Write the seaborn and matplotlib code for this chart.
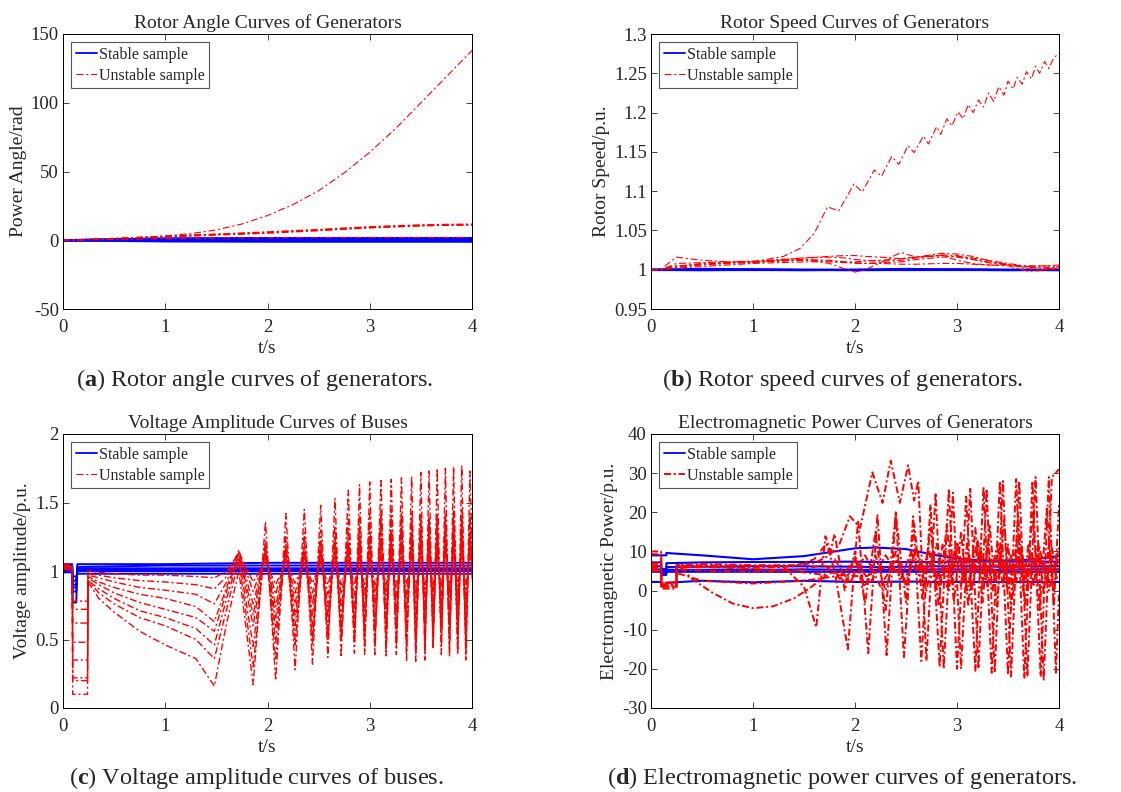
import matplotlib
matplotlib.use("Agg")
import matplotlib.pyplot as plt
from matplotlib.lines import Line2D
from matplotlib.ticker import FuncFormatter
import pandas as pd
import seaborn as sns

# ---------------- (a) rotor angle ----------------
a_t = [0, 0.25, 0.5, 0.75, 1.0, 1.25, 1.5, 1.75, 2.0, 2.25, 2.5, 2.75, 3.0, 3.25, 3.5, 3.75, 4.0]
a_unstable = [
    [0, 0.5, 1.2, 2.1, 3.2, 4.8, 7.5, 11.8, 18, 26, 36, 49, 64, 81, 100, 119, 138],
    [0, 0.6, 1.3, 2.0, 2.8, 3.5, 4.3, 5.0, 5.8, 6.7, 7.6, 8.6, 9.6, 10.3, 10.9, 11.3, 11.5],
    [0, 0.5, 1.2, 1.9, 2.6, 3.3, 4.0, 4.7, 5.4, 6.3, 7.2, 8.2, 9.2, 9.9, 10.6, 11.0, 11.2],
    [0, 0.7, 1.4, 2.2, 3.0, 3.8, 4.6, 5.3, 6.1, 7.0, 7.9, 8.9, 9.9, 10.6, 11.2, 11.6, 11.8],
    [0, 0.5, 1.1, 1.7, 2.4, 3.0, 3.7, 4.4, 5.1, 6.0, 6.9, 7.9, 8.9, 9.7, 10.4, 10.8, 11.0],
    [0, 0.3, 0.6, 0.9, 1.2, 1.4, 1.6, 1.7, 1.8, 1.9, 1.9, 2.0, 2.0, 2.0, 2.0, 2.0, 2.0],
]
a_stable_t = [0, 1, 2, 3, 4]
a_stable = [
    [0.0, 0.2, 0.3, 0.3, 0.3],
    [0.0, 0.6, 0.7, 0.8, 0.8],
    [0.0, 1.0, 1.2, 1.3, 1.3],
    [0.0, -0.4, -0.5, -0.5, -0.5],
    [0.0, 1.3, 1.6, 1.6, 1.6],
    [0.0, -0.8, -1.0, -1.0, -1.0],
]

# ---------------- (b) rotor speed ----------------
b_stable_t = [0, 0.5, 1.0, 1.5, 2.0, 2.5, 3.0, 3.5, 4.0]
b_stable = [
    [1.000, 1.000, 1.000, 1.000, 1.000, 1.000, 1.000, 1.000, 1.000],
    [1.000, 1.001, 1.0005, 1.000, 0.9995, 1.000, 1.0005, 1.000, 0.9995],
    [1.000, 0.9995, 1.000, 0.9995, 1.000, 1.001, 1.000, 0.9995, 1.000],
]
b_big_t = [0, 0.1, 0.2, 0.5, 1.0, 1.3, 1.46, 1.6, 1.73, 1.84, 1.99, 2.07, 2.19, 2.26,
           2.36, 2.43, 2.52, 2.58, 2.67, 2.72, 2.80, 2.84, 2.90, 2.95, 3.01, 3.06, 3.11,
           3.16, 3.21, 3.26, 3.31, 3.36, 3.41, 3.46, 3.50, 3.55, 3.59, 3.64, 3.68, 3.73,
           3.77, 3.81, 3.86, 3.90, 3.95, 4.0]
b_big_v = [1.0, 1.0, 1.004, 1.007, 1.010, 1.017, 1.027, 1.046, 1.080, 1.075, 1.109, 1.099,
           1.127, 1.119, 1.144, 1.134, 1.158, 1.149, 1.170, 1.160, 1.182, 1.172, 1.192,
           1.183, 1.201, 1.192, 1.210, 1.200, 1.216, 1.207, 1.225, 1.214, 1.233, 1.222,
           1.240, 1.230, 1.245, 1.236, 1.252, 1.243, 1.259, 1.250, 1.265, 1.256, 1.270, 1.275]
b_small_t = [0, 0.1, 0.25, 0.5, 0.75, 1.0, 1.25, 1.5, 1.75, 1.9, 2.0, 2.1, 2.25, 2.45,
             2.6, 2.85, 3.0, 3.15, 3.3, 3.5, 3.7, 3.85, 4.0]
b_small = [
    [1.0, 1.001, 1.016, 1.012, 1.010, 1.010, 1.012, 1.015, 1.017, 1.018, 1.018, 1.017,
     1.016, 1.014, 1.016, 1.021, 1.020, 1.017, 1.012, 1.008, 1.004, 1.005, 1.006],
    [1.0, 1.0, 1.005, 1.007, 1.009, 1.010, 1.012, 1.013, 1.008, 1.001, 0.997, 1.000,
     1.009, 1.022, 1.016, 1.018, 1.012, 1.008, 1.006, 1.005, 0.998, 0.999, 1.002],
    [1.0, 1.0, 1.003, 1.006, 1.008, 1.009, 1.011, 1.013, 1.012, 1.010, 1.008, 1.008,
     1.009, 1.010, 1.013, 1.016, 1.017, 1.015, 1.012, 1.006, 1.004, 1.003, 1.003],
    [1.0, 1.0, 1.004, 1.008, 1.009, 1.010, 1.011, 1.012, 1.011, 1.010, 1.010, 1.011,
     1.012, 1.014, 1.016, 1.018, 1.016, 1.013, 1.009, 1.006, 1.005, 1.005, 1.004],
    [1.0, 1.0, 1.002, 1.004, 1.006, 1.008, 1.009, 1.010, 1.010, 1.009, 1.009, 1.008,
     1.008, 1.007, 1.007, 1.008, 1.008, 1.007, 1.006, 1.006, 1.003, 1.002, 1.001],
    [1.0, 1.0, 1.008, 1.009, 1.010, 1.011, 1.013, 1.015, 1.016, 1.015, 1.013, 1.012,
     1.011, 1.012, 1.015, 1.019, 1.018, 1.014, 1.010, 1.007, 1.001, 1.000, 1.004],
]

# ---------------- (c) bus voltage ----------------
c_stable_t = [0, 0.09, 0.095, 0.13, 0.14, 1.0, 2.0, 3.0, 4.0]
c_stable = [
    [1.04, 1.04, 0.77, 0.77, 1.05, 1.05, 1.06, 1.06, 1.06],
    [1.02, 1.02, 0.85, 0.85, 1.03, 1.04, 1.04, 1.04, 1.04],
    [1.00, 1.00, 0.90, 0.90, 1.02, 1.02, 1.02, 1.02, 1.02],
    [0.99, 0.99, 0.93, 0.93, 1.00, 1.00, 1.00, 1.00, 1.00],
    [1.05, 1.05, 0.96, 0.96, 0.98, 0.98, 0.98, 0.98, 0.98],
    [1.01, 1.01, 0.88, 0.88, 1.01, 1.01, 1.01, 1.01, 1.01],
]
c_pre_t = [0, 0.09, 0.095, 0.24, 0.245, 0.35, 0.5, 0.75, 1.0, 1.3, 1.48, 1.6, 1.72]
c_trough_t = [1.86, 2.08, 2.27, 2.44, 2.59, 2.72, 2.85, 2.95, 3.05, 3.16, 3.26, 3.36,
              3.45, 3.54, 3.62, 3.70, 3.78, 3.86, 3.94, 4.03]
c_peak_t = [1.98, 2.18, 2.36, 2.52, 2.66, 2.79, 2.90, 3.00, 3.11, 3.21, 3.31, 3.41,
            3.50, 3.58, 3.66, 3.74, 3.82, 3.90, 3.98]
c_pre = [
    [1.02, 1.02, 0.10, 0.10, 0.92, 0.80, 0.70, 0.56, 0.46, 0.36, 0.16, 0.62, 1.00],
    [1.03, 1.03, 0.20, 0.20, 0.93, 0.84, 0.76, 0.66, 0.60, 0.50, 0.36, 0.72, 1.08],
    [1.02, 1.02, 0.22, 0.22, 0.93, 0.87, 0.80, 0.71, 0.66, 0.58, 0.46, 0.80, 1.10],
    [1.04, 1.04, 0.35, 0.35, 0.95, 0.90, 0.84, 0.77, 0.72, 0.66, 0.56, 0.85, 1.12],
    [1.01, 1.01, 0.48, 0.48, 0.96, 0.92, 0.88, 0.83, 0.80, 0.74, 0.63, 0.88, 1.13],
    [1.03, 1.03, 0.62, 0.62, 0.97, 0.95, 0.92, 0.88, 0.86, 0.83, 0.76, 0.92, 1.14],
    [1.02, 1.02, 0.72, 0.72, 0.98, 0.97, 0.95, 0.93, 0.92, 0.90, 0.87, 0.96, 1.15],
    [1.05, 1.05, 0.78, 0.78, 1.00, 0.99, 0.98, 0.97, 0.97, 0.96, 0.95, 1.00, 1.13],
]
c_troughs = [
    [0.17, 0.20, 0.28, 0.32, 0.37, 0.37, 0.40, 0.39, 0.39, 0.38, 0.39, 0.34, 0.34, 0.35, 0.44, 0.39, 0.38, 0.39, 0.35, 0.40],
    [0.30, 0.35, 0.45, 0.47, 0.50, 0.48, 0.47, 0.45, 0.45, 0.42, 0.45, 0.42, 0.40, 0.42, 0.45, 0.45, 0.42, 0.42, 0.40, 0.45],
    [0.45, 0.48, 0.50, 0.52, 0.50, 0.50, 0.50, 0.48, 0.50, 0.50, 0.48, 0.50, 0.48, 0.50, 0.50, 0.50, 0.48, 0.48, 0.50, 0.50],
    [0.60, 0.58, 0.60, 0.60, 0.58, 0.58, 0.58, 0.55, 0.58, 0.58, 0.55, 0.56, 0.55, 0.58, 0.56, 0.56, 0.55, 0.55, 0.56, 0.56],
    [0.68, 0.66, 0.68, 0.68, 0.66, 0.66, 0.66, 0.64, 0.66, 0.66, 0.64, 0.65, 0.64, 0.66, 0.65, 0.65, 0.64, 0.64, 0.65, 0.65],
    [0.76, 0.74, 0.76, 0.76, 0.74, 0.74, 0.74, 0.73, 0.74, 0.74, 0.72, 0.73, 0.72, 0.74, 0.73, 0.73, 0.72, 0.72, 0.73, 0.73],
    [0.85, 0.83, 0.84, 0.84, 0.83, 0.83, 0.82, 0.82, 0.82, 0.82, 0.81, 0.82, 0.81, 0.82, 0.82, 0.82, 0.81, 0.81, 0.82, 0.82],
    [0.92, 0.90, 0.91, 0.91, 0.90, 0.90, 0.90, 0.89, 0.90, 0.90, 0.89, 0.90, 0.89, 0.90, 0.90, 0.90, 0.89, 0.89, 0.90, 0.90],
]
c_peaks = [
    [1.36, 1.42, 1.45, 1.48, 1.53, 1.59, 1.63, 1.65, 1.66, 1.67, 1.68, 1.69, 1.72, 1.73, 1.75, 1.75, 1.76, 1.77, 1.73],
    [1.22, 1.25, 1.28, 1.30, 1.33, 1.38, 1.40, 1.42, 1.45, 1.45, 1.43, 1.42, 1.42, 1.40, 1.42, 1.42, 1.45, 1.45, 1.42],
    [1.20, 1.20, 1.20, 1.22, 1.25, 1.28, 1.32, 1.35, 1.38, 1.38, 1.38, 1.38, 1.38, 1.38, 1.38, 1.40, 1.40, 1.40, 1.40],
    [1.18, 1.18, 1.18, 1.18, 1.20, 1.22, 1.25, 1.28, 1.30, 1.30, 1.32, 1.32, 1.32, 1.32, 1.32, 1.35, 1.35, 1.35, 1.35],
    [1.16, 1.16, 1.15, 1.16, 1.17, 1.18, 1.20, 1.22, 1.24, 1.25, 1.26, 1.26, 1.27, 1.27, 1.27, 1.28, 1.28, 1.28, 1.28],
    [1.13, 1.13, 1.12, 1.13, 1.14, 1.15, 1.16, 1.18, 1.19, 1.20, 1.20, 1.21, 1.22, 1.22, 1.22, 1.23, 1.23, 1.23, 1.23],
    [1.10, 1.10, 1.10, 1.10, 1.11, 1.12, 1.12, 1.13, 1.14, 1.15, 1.15, 1.15, 1.16, 1.16, 1.16, 1.17, 1.17, 1.17, 1.17],
    [1.07, 1.07, 1.07, 1.07, 1.08, 1.08, 1.09, 1.09, 1.10, 1.10, 1.10, 1.11, 1.11, 1.11, 1.11, 1.12, 1.12, 1.12, 1.12],
]

# ---------------- (d) electromagnetic power ----------------
d_stable_t = [0, 0.1, 0.101, 0.15, 0.151, 0.5, 1.0, 1.5, 2.0, 2.2, 2.5, 2.8, 3.1, 3.4, 3.7, 4.0]
d_stable = [
    [9.0, 9.0, 9.0, 9.0, 9.6, 9.0, 8.0, 8.8, 10.8, 11.0, 10.6, 9.0, 7.9, 7.6, 7.9, 8.8],
    [7.2, 7.2, 4.0, 4.0, 7.0, 7.2, 7.3, 7.3, 7.4, 7.3, 7.3, 7.3, 7.4, 7.4, 7.4, 7.4],
    [6.2, 6.2, 4.5, 4.5, 6.0, 6.1, 6.2, 6.2, 6.1, 6.0, 6.1, 6.2, 6.2, 6.1, 6.2, 6.2],
    [5.4, 5.4, 5.0, 5.0, 5.3, 5.3, 5.3, 5.4, 5.3, 5.3, 5.3, 5.4, 5.4, 5.3, 5.4, 5.4],
    [4.8, 4.8, 5.5, 5.5, 4.8, 4.8, 4.8, 4.8, 4.8, 4.8, 4.8, 4.8, 4.8, 4.8, 4.8, 4.8],
    [2.2, 2.2, 1.5, 1.5, 2.0, 2.5, 2.1, 2.5, 2.2, 2.2, 2.3, 2.2, 2.2, 2.2, 2.2, 2.2],
]
d_r1_t = [0, 0.1, 0.101, 0.25, 0.251, 0.5, 1.0, 1.4, 1.6, 1.75, 1.85, 1.95, 2.05, 2.17,
          2.27, 2.35, 2.44, 2.52, 2.58, 2.62, 2.70, 2.79, 2.87, 2.96, 3.04, 3.13, 3.21,
          3.29, 3.37, 3.45, 3.53, 3.61, 3.69, 3.77, 3.85, 3.93, 4.0]
d_r1_v = [10.0, 10.0, 1.5, 1.5, 6.5, 6.8, 6.5, 6.5, 7.0, 9.0, 12.0, 19.0, 16.0, 30.2,
          22.4, 33.2, 22.4, 32.0, 23.0, 28.0, -18.0, 25.0, -20.0, 25.0, -20.0, 26.0,
          -20.0, 26.0, -21.0, 28.0, -22.0, 28.0, -22.0, 29.0, -23.0, 29.0, 31.0]
d_r2_t = [0, 0.1, 0.101, 0.25, 0.251, 0.5, 1.0, 1.4, 1.6, 1.72, 1.80, 1.93, 2.03, 2.13,
          2.22, 2.31, 2.40, 2.48, 2.57, 2.65, 2.74, 2.83, 2.92, 3.00, 3.09, 3.18, 3.26,
          3.34, 3.42, 3.50, 3.58, 3.66, 3.74, 3.82, 3.90, 3.97, 4.0]
d_r2_v = [9.3, 9.3, 2.0, 2.0, 6.0, 6.0, 5.8, 6.2, 8.0, 12.0, 5.0, -15.0, 18.0, -16.0,
          19.5, -16.5, 20.0, -17.0, 19.0, -18.0, 22.0, -19.5, 26.0, -20.0, 24.0, -20.5,
          26.5, -21.0, 28.0, -21.5, 28.5, -22.5, 28.0, -22.0, 29.0, -21.0, 0.0]
d_r3_t = [0, 0.1, 0.101, 0.25, 0.251, 0.5, 1.0, 1.3, 1.5, 1.62, 1.71, 1.76, 1.80, 1.90,
          2.00, 2.10, 2.20, 2.30, 2.40, 2.50, 2.58, 2.66, 2.74, 2.82, 2.90, 2.97, 3.04,
          3.11, 3.18, 3.25, 3.32, 3.39, 3.46, 3.53, 3.60, 3.67, 3.74, 3.81, 3.88, 3.95, 4.0]
d_r3_v = [7.0, 7.0, 1.0, 1.0, 6.0, 6.5, 6.3, 6.0, 1.0, -9.4, 13.9, 10.0, 14.5, 0.0,
          10.0, -3.0, 15.0, -5.0, 19.5, -3.0, 17.0, -2.0, 16.0, -4.0, 17.0, -3.0, 15.0,
          -4.0, 16.0, -3.0, 17.0, -4.0, 18.0, -5.0, 19.0, -4.0, 20.0, -5.0, 21.0, -4.0, 22.0]
d_r4_t = [0, 0.1, 0.101, 0.25, 0.251, 0.4, 0.6, 0.8, 1.0, 1.2, 1.4, 1.55, 1.7, 1.8, 1.9,
          2.0, 2.1, 2.2, 2.3, 2.4, 2.5, 2.6, 2.7, 2.8, 2.9, 3.0, 3.1, 3.2, 3.3, 3.4, 3.5,
          3.6, 3.7, 3.8, 3.9, 4.0]
d_r4_v = [5.5, 5.5, 1.0, 1.0, 7.0, 3.0, -0.5, -3.3, -4.5, -4.0, -2.0, 0.5, 3.5, 5.0,
          2.0, 8.0, 1.0, 9.0, 0.0, 10.0, 1.0, 11.0, 0.0, 12.0, 1.0, 12.0, 0.0, 13.0,
          1.0, 12.0, 0.0, 13.0, 1.0, 12.0, 0.0, 11.0]
d_r5_t = [0, 0.1, 0.101, 0.25, 0.251, 0.6, 1.0, 1.4, 1.7, 1.85, 2.0, 2.15, 2.3, 2.45,
          2.55, 2.65, 2.72, 2.79, 2.86, 2.92, 2.98, 3.04, 3.10, 3.15, 3.20, 3.25, 3.30,
          3.35, 3.40, 3.45, 3.50, 3.55, 3.60, 3.65, 3.70, 3.75, 3.80, 3.85, 3.90, 3.95, 4.0]
d_r5_v = [6.0, 6.0, 2.0, 2.0, 5.5, 5.0, 4.8, 5.2, 6.5, 3.0, 8.0, 2.0, 9.0, 3.0, 10.0,
          2.0, 11.0, 1.0, 12.0, 0.0, 11.0, 1.0, 12.0, 0.0, 11.0, 2.0, 12.0, 0.0, 11.0,
          1.0, 12.0, -1.0, 11.0, 0.0, 12.0, 1.0, 11.0, -1.0, 12.0, 0.0, 10.0]
d_r6_t = [0, 0.1, 0.101, 0.25, 0.251, 0.6, 1.0, 1.4, 1.7, 1.8, 1.95, 2.1, 2.25, 2.4,
          2.5, 2.6, 2.68, 2.75, 2.82, 2.89, 2.95, 3.01, 3.07, 3.12, 3.18, 3.23, 3.28,
          3.33, 3.38, 3.43, 3.48, 3.53, 3.58, 3.63, 3.68, 3.73, 3.78, 3.83, 3.88, 3.93, 3.98]
d_r6_v = [5.0, 5.0, 0.5, 0.5, 6.5, 6.0, 5.5, 5.0, 4.0, 8.0, 2.0, 9.0, 1.0, 8.0, 2.0,
          11.0, 4.0, 8.0, 1.0, 10.0, 3.0, 12.0, 2.0, 9.0, 4.0, 11.0, 3.0, 8.0, 2.0, 10.0,
          4.0, 9.0, 2.0, 11.0, 3.0, 10.0, 4.0, 9.0, 2.0, 11.0, 3.0]
d_r7_t = [0, 0.1, 0.101, 0.25, 0.251, 0.5, 1.0, 1.5, 1.9, 2.1, 2.3, 2.5, 2.7, 2.85,
          3.0, 3.1, 3.2, 3.3, 3.4, 3.5, 3.6, 3.7, 3.8, 3.9, 4.0]
d_r7_v = [6.5, 6.5, 1.5, 1.5, 4.5, 2.5, 1.8, 2.5, 4.0, 3.5, 6.0, 4.0, 8.0, 3.0, 9.0,
          2.0, 8.0, 3.0, 9.0, 2.0, 8.5, 3.5, 9.0, 2.5, 8.0]

# ---------------- style ----------------
sns.set_theme(style="ticks")
plt.rcParams["font.family"] = ["Liberation Serif", "DejaVu Serif"]
plt.rcParams["mathtext.fontset"] = "custom"
plt.rcParams["mathtext.rm"] = "Liberation Serif"
plt.rcParams["mathtext.bf"] = "Liberation Serif:bold"
plt.rcParams["axes.unicode_minus"] = False
plt.rcParams["lines.scale_dashes"] = False

DASHDOT = (0, (5, 2, 1.5, 2))


def draw_group(ax, t_list, v_list, color, ls, lw):
    frames = [pd.DataFrame({"t": t, "v": v, "curve": k}) for k, (t, v) in enumerate(zip(t_list, v_list))]
    df = pd.concat(frames, ignore_index=True)
    sns.lineplot(data=df, x="t", y="v", units="curve", estimator=None, sort=False,
                 color=color, linestyle=ls, linewidth=lw, ax=ax, legend=False)


def osc_curve(pre_v, troughs, peaks):
    # stitch the read peak / trough values onto the pre-oscillation part
    t = list(c_pre_t)
    v = list(pre_v)
    for i, tt in enumerate(c_trough_t):
        t.append(tt)
        v.append(troughs[i])
        if i < len(c_peak_t):
            t.append(c_peak_t[i])
            v.append(peaks[i])
    return t, v


def style_axes(ax, title, ylabel, ylim, yticks, unst_lw):
    ax.set_xlim(0, 4)
    ax.set_ylim(*ylim)
    ax.set_xticks([0, 1, 2, 3, 4])
    ax.set_yticks(yticks)
    ax.yaxis.set_major_formatter(FuncFormatter(lambda x, p: f"{x:g}"))
    ax.set_title(title, fontsize=14, pad=4)
    ax.set_xlabel("t/s", fontsize=14, labelpad=3)
    ax.set_ylabel(ylabel, fontsize=14, labelpad=3)
    ax.tick_params(direction="in", top=True, right=True, length=4, width=0.6,
                   labelsize=13.5)
    ax.tick_params(axis="x", pad=7)
    ax.tick_params(axis="y", pad=3)
    for s in ax.spines.values():
        s.set_linewidth(0.7)
        s.set_color("black")
    handles = [Line2D([], [], color="blue", lw=1.3),
               Line2D([], [], color="red", lw=unst_lw, linestyle=DASHDOT)]
    leg = ax.legend(handles, ["Stable sample", "Unstable sample"], loc="upper left",
                    fontsize=11.5, frameon=True, fancybox=False, framealpha=1,
                    edgecolor="#555555", handlelength=1.3, handletextpad=0.15,
                    labelspacing=0.3, borderpad=0.3, borderaxespad=0.5)
    leg.get_frame().set_linewidth(0.8)


fig = plt.figure(figsize=(11.21, 7.92), dpi=100)
W, H = 1121, 792
ax_a = fig.add_axes([63 / W, 1 - 309 / H, 409 / W, 275 / H])
ax_b = fig.add_axes([651 / W, 1 - 309 / H, 408 / W, 275 / H])
ax_c = fig.add_axes([63 / W, 1 - 708 / H, 409 / W, 274 / H])
ax_d = fig.add_axes([651 / W, 1 - 708 / H, 408 / W, 274 / H])

# (a)
draw_group(ax_a, [a_stable_t] * len(a_stable), a_stable, "blue", "-", 1.6)
draw_group(ax_a, [a_t] * len(a_unstable), a_unstable, "red", DASHDOT, 0.8)
style_axes(ax_a, "Rotor Angle Curves of Generators", "Power Angle/rad", (-50, 150),
           [-50, 0, 50, 100, 150], 0.8)

# (b)
draw_group(ax_b, [b_stable_t] * len(b_stable), b_stable, "blue", "-", 1.6)
draw_group(ax_b, [b_small_t] * len(b_small) + [b_big_t], b_small + [b_big_v], "red", DASHDOT, 0.8)
style_axes(ax_b, "Rotor Speed Curves of Generators", "Rotor Speed/p.u.", (0.95, 1.3),
           [0.95, 1.0, 1.05, 1.1, 1.15, 1.2, 1.25, 1.3], 0.8)

# (c)
draw_group(ax_c, [c_stable_t] * len(c_stable), c_stable, "blue", "-", 1.4)
c_curves = [osc_curve(p, tr, pk) for p, tr, pk in zip(c_pre, c_troughs, c_peaks)]
draw_group(ax_c, [c[0] for c in c_curves], [c[1] for c in c_curves], "red", DASHDOT, 1.0)
style_axes(ax_c, "Voltage Amplitude Curves of Buses", "Voltage amplitude/p.u.", (0, 2),
           [0, 0.5, 1, 1.5, 2], 0.8)

# (d)
draw_group(ax_d, [d_stable_t] * len(d_stable), d_stable, "blue", "-", 1.5)
draw_group(ax_d, [d_r1_t, d_r2_t, d_r3_t, d_r4_t, d_r5_t, d_r6_t, d_r7_t],
           [d_r1_v, d_r2_v, d_r3_v, d_r4_v, d_r5_v, d_r6_v, d_r7_v], "red", DASHDOT, 1.4)
style_axes(ax_d, "Electromagnetic Power Curves of Generators", "Electromagnetic Power/p.u.",
           (-30, 40), [-30, -20, -10, 0, 10, 20, 30, 40], 1.4)

captions = [
    (255, 380, r"($\mathbf{a}$) Rotor angle curves of generators."),
    (843, 380, r"($\mathbf{b}$) Rotor speed curves of generators."),
    (256, 778, r"($\mathbf{c}$) Voltage amplitude curves of buses."),
    (842, 778, r"($\mathbf{d}$) Electromagnetic power curves of generators."),
]
for x, y, txt in captions:
    fig.text(x / W, 1 - y / H, txt, ha="center", va="center", fontsize=17.5)

fig.savefig("out.png", dpi=100)
